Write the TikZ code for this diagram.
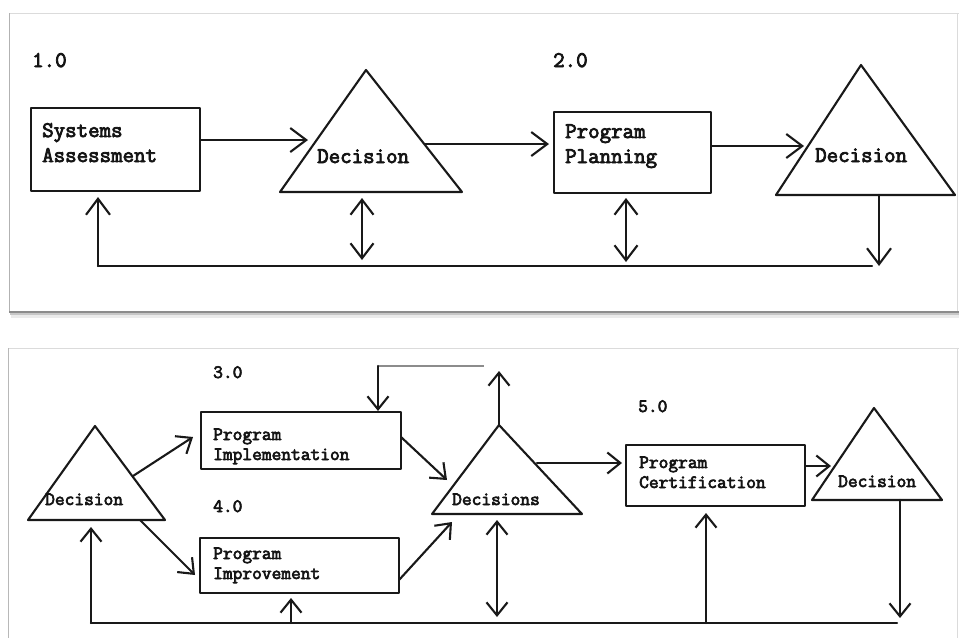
\documentclass[tikz,border=0pt]{standalone}
\usepackage{fontspec}
\setmonofont{Latin Modern Mono}[FakeBold=3.5]
\usetikzlibrary{arrows.meta}

\tikzset{
  ln/.style={line width=2.1pt, draw=black!90, line cap=round, line join=round},
  box/.style={ln, rectangle, inner sep=0pt},
  tri/.style={ln},
  bigtxt/.style={inner sep=0pt, anchor=base west, align=left, text=black!92,
    font=\ttfamily\fontsize{22.3}{25}\selectfont},
  smalltxt/.style={inner sep=0pt, anchor=base west, align=left, text=black!92,
    font=\ttfamily\fontsize{18.9}{20}\selectfont},
  arrT/.style={ln, -{Straight Barb[length=16pt,width=24pt]}},
  dblT/.style={ln, {Straight Barb[length=15pt,width=23pt]}-{Straight Barb[length=15pt,width=23pt]}},
  arrB/.style={ln, -{Straight Barb[length=13pt,width=21pt]}},
  dblB/.style={ln, {Straight Barb[length=13pt,width=21pt]}-{Straight Barb[length=13pt,width=21pt]}},
}

\begin{document}
\begin{tikzpicture}[x=1pt, y=-1pt]
\useasboundingbox (0,0) rectangle (959,638);
\fill[white] (0,0) rectangle (959,638);

% ---------- panel frames ----------
\fill[black!8]  (11,314.5) rectangle (959,317.5);
\fill[black!22] (10,312.5) rectangle (959,314.5);
\fill[black!45] (9,310.5) rectangle (959,312.5);
\draw[black!14, line width=0.8pt] (9,13) -- (959,13);
\draw[black!30, line width=1pt] (9,13) -- (9,311);
\draw[black!14, line width=0.8pt] (957.5,13) -- (957.5,311);

\draw[black!14, line width=0.8pt] (8,348) -- (959,348);
\draw[black!28, line width=1pt] (8,348) -- (8,638);
\draw[black!14, line width=0.8pt] (957.5,348) -- (957.5,638);

% ---------- upper chart ----------
\node[bigtxt] (n1) at (32,67) {1.0};
\node[bigtxt] (n2) at (553,67) {2.0};

\node[box, minimum width=169pt, minimum height=83pt] (box1) at (115.5,149.5) {};
\node[bigtxt] (box1t) at (42,162) {Systems\\Assessment};

\node[box, minimum width=157pt, minimum height=81pt] (box2) at (632.5,152.5) {};
\node[bigtxt] (box2t) at (565,163) {Program\\Planning};

\coordinate (t1a) at (366,70);
\coordinate (t1l) at (280,192);
\coordinate (t1r) at (462,192);
\draw[tri] (t1a) -- (t1l) -- (t1r) -- cycle;
\node[bigtxt] (dec1) at (317,163) {Decision};

\coordinate (t2a) at (861,65);
\coordinate (t2l) at (776,195);
\coordinate (t2r) at (955,195);
\draw[tri] (t2a) -- (t2l) -- (t2r) -- cycle;
\node[bigtxt] (dec2) at (815,162) {Decision};

% forward flow
\coordinate (a1) at (308,140);
\draw[arrT] (box1.east |- a1) -- (a1);
\coordinate (a2s) at (425,144);
\coordinate (a2e) at (549,144);
\draw[arrT] (a2s) -- (a2e);
\coordinate (a3) at (804,146);
\draw[arrT] (box2.east |- a3) -- (a3);

% feedback
\coordinate (d1t) at (362,198);
\coordinate (d1b) at (362,260);
\draw[dblT] (d1t) -- (d1b);
\coordinate (d2t) at (626,198);
\coordinate (d2b) at (626,262);
\draw[dblT] (d2t) -- (d2b);
\coordinate (o2t) at (879,195);
\coordinate (o2b) at (879,266);
\draw[arrT] (o2t) -- (o2b);
\coordinate (fbR) at (872,266);
\coordinate (fbL) at (98,266);
\coordinate (fbU) at (98,197);
\draw[ln] (fbR) -- (fbL);
\draw[arrT] (fbL) -- (fbU);

% ---------- lower chart ----------
\node[smalltxt] (n3) at (213,378) {3.0};
\node[smalltxt] (n4) at (213,512) {4.0};
\node[smalltxt] (n5) at (638,412) {5.0};

\node[box, minimum width=200pt, minimum height=57pt] (box3) at (301,440.5) {};
\node[smalltxt] (box3t) at (213,460) {Program\\Implementation};

\node[box, minimum width=199pt, minimum height=55pt] (box4) at (299.5,565.5) {};
\node[smalltxt] (box4t) at (213,579) {Program\\Improvement};

\node[box, minimum width=179pt, minimum height=61pt] (box5) at (715.5,475.5) {};
\node[smalltxt] (box5t) at (639,488) {Program\\Certification};

\coordinate (tla) at (95,426);
\coordinate (tll) at (28,520);
\coordinate (tlr) at (165,520);
\draw[tri] (tla) -- (tll) -- (tlr) -- cycle;
\node[smalltxt] (dec3) at (45,505) {Decision};

\coordinate (tda) at (499,425);
\coordinate (tdl) at (432,514);
\coordinate (tdr) at (582,514);
\draw[tri] (tda) -- (tdl) -- (tdr) -- cycle;
\node[smalltxt] (dec4) at (452,505) {Decisions};

\coordinate (tra) at (874,408);
\coordinate (trl) at (812,500);
\coordinate (trr) at (942,500);
\draw[tri] (tra) -- (trl) -- (trr) -- cycle;
\node[smalltxt] (dec5) at (838,487) {Decision};

% branches out of the first decision
\coordinate (b1s) at (133,476);
\coordinate (b1e) at (193,437);
\draw[arrB] (b1s) -- (b1e);
\coordinate (b2s) at (140,520);
\coordinate (b2e) at (195,575);
\draw[arrB] (b2s) -- (b2e);

% into the decisions triangle
\coordinate (c1s) at (401,437);
\coordinate (c1e) at (447,480);
\draw[arrB] (c1s) -- (c1e);
\coordinate (c2s) at (399,580);
\coordinate (c2e) at (452,522);
\draw[arrB] (c2s) -- (c2e);

% entry from above and exit upward
\coordinate (inT) at (378,366);
\coordinate (inR) at (484,366);
\draw[black!45, line width=1.2pt] (inT) -- (inR);
\draw[arrB] (inT) -- (box3.north -| inT) ;
\coordinate (upT) at (499,371);
\draw[arrB] (tda) -- (upT);

% towards certification
\coordinate (e1s) at (537,463);
\coordinate (e1e) at (622,463);
\draw[arrB] (e1s) -- (e1e);
\coordinate (e2e) at (831,466);
\draw[arrB] (box5.east |- e2e) -- (e2e);

% return paths along the bottom line
\coordinate (dd1) at (497,520);
\coordinate (dd2) at (497,617);
\draw[dblB] (dd1) -- (dd2);
\coordinate (rt) at (900,500);
\coordinate (rb) at (900,618);
\draw[arrB] (rt) -- (rb);
\coordinate (bL) at (91,623);
\coordinate (bR) at (897,623);
\draw[ln] (bL) -- (bR);
\coordinate (u1) at (91,527);
\draw[arrB] (bL) -- (u1);
\coordinate (u2b) at (291,623);
\coordinate (u2t) at (291,598);
\draw[arrB] (u2b) -- (u2t);
\coordinate (u3b) at (706,623);
\coordinate (u3t) at (706,513);
\draw[arrB] (u3b) -- (u3t);
\end{tikzpicture}
\end{document}
